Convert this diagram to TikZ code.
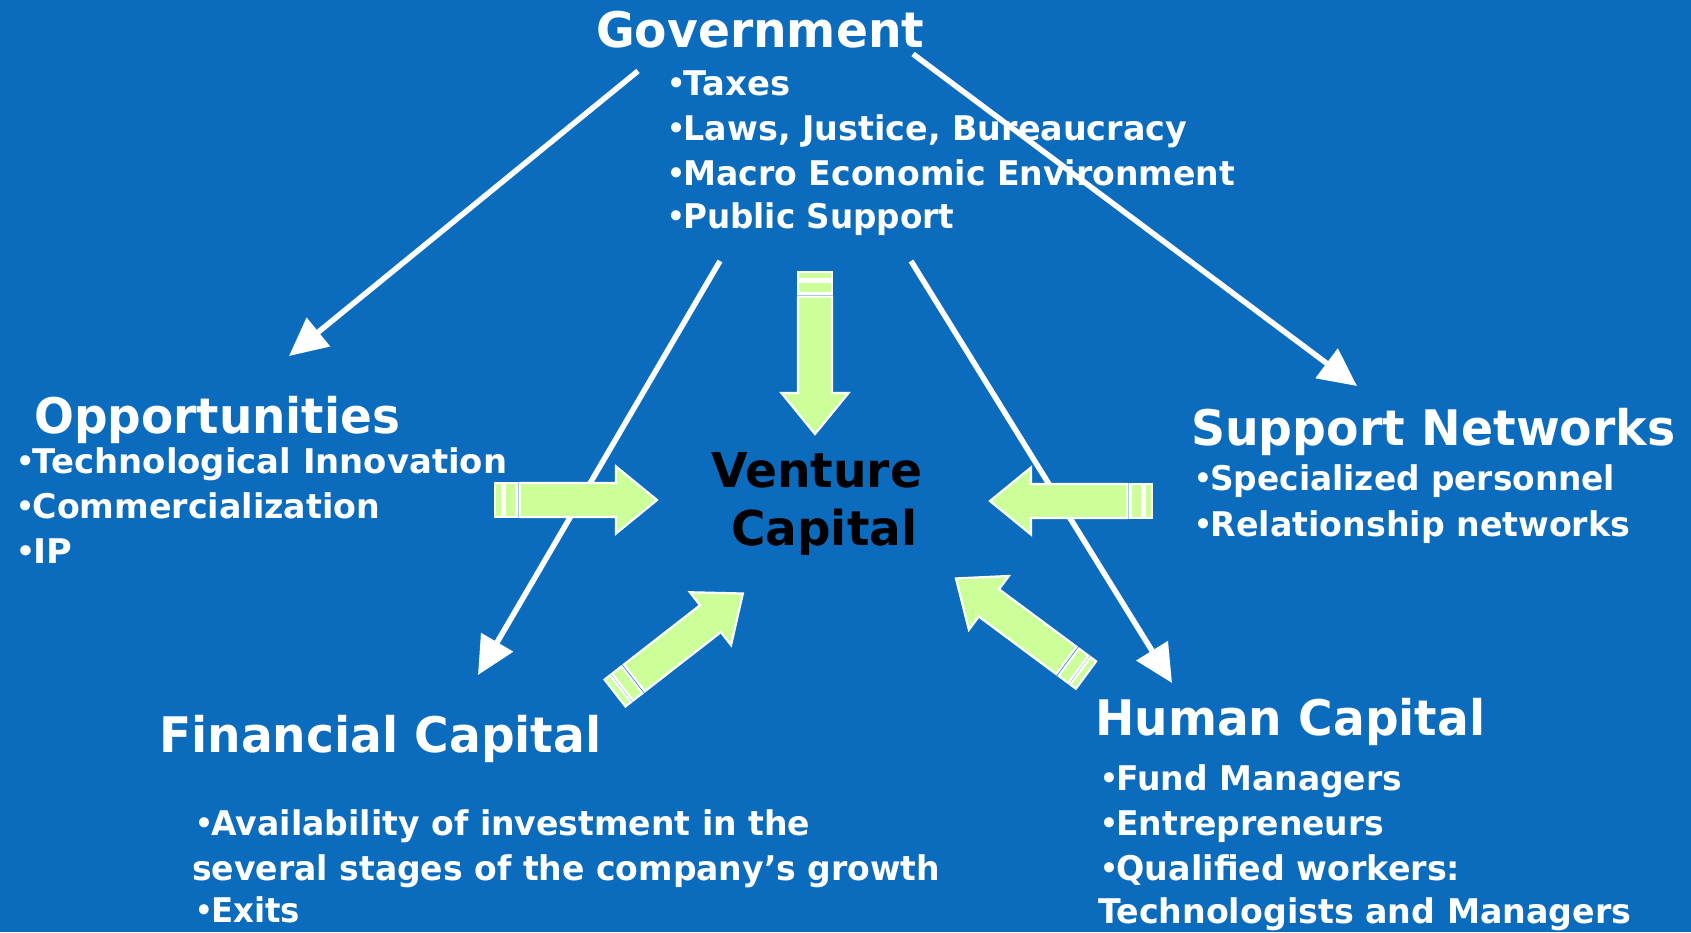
\documentclass[tikz,border=0pt]{standalone}
\usepackage{fontspec}
\usepackage{graphicx}
\setmainfont{DejaVu Sans}
\usetikzlibrary{arrows.meta}
\definecolor{bgblue}{RGB}{11,108,190}
\definecolor{agreen}{RGB}{204,255,153}
\newcommand{\fitw}[2]{\resizebox{#1}{\height}{#2}}
\newcommand{\bul}{\raisebox{0.04em}{\scalebox{0.85}{•}}\kern-0.05em}
\tikzset{
  title/.style={text=white, font=\bfseries\fontsize{49}{55}\selectfont, anchor=base west, inner sep=0pt},
  item/.style={text=white, font=\bfseries\fontsize{34}{40}\selectfont, anchor=base west, inner sep=0pt},
  center/.style={text=black, font=\bfseries\fontsize{48}{54}\selectfont, anchor=base west, inner sep=0pt},
  wline/.style={draw=white, line width=5.5pt, -{Triangle[length=38pt,width=36pt]}},
  garrow/.style={draw=white, fill=agreen, line width=2.2pt, line join=miter},
  blockarrow/.pic={
    \draw[garrow] (0,-17) rectangle (7,17);
    \draw[garrow] (9.5,-17) rectangle (21.5,17);
    \draw[garrow] (24.5,-17) -- (121,-17) -- (121,-33.5) -- (162,0) -- (121,33.5) -- (121,17) -- (24.5,17) -- cycle;
  }
}
\begin{document}
\begin{tikzpicture}[x=1pt,y=-1pt]
\fill[bgblue] (0,0) rectangle (1691,932);
\useasboundingbox (0,0) rectangle (1691,932);

% titles
\node[title] (gov) at (596,47) {\fitw{328pt}{Government}};
\node[title] (opp) at (34,433) {\fitw{366pt}{Opportunities}};
\node[title] (sup) at (1191,445) {\fitw{484pt}{Support Networks}};
\node[title] (fin) at (159,752) {\fitw{442pt}{Financial Capital}};
\node[title] (hum) at (1095,735) {\fitw{390pt}{Human Capital}};
\node[center] (vc1) at (711,487) {\fitw{211pt}{Venture}};
\node[center] (vc2) at (731,545) {\fitw{186pt}{Capital}};

% government items
\node[item] (g1) at (667,95) {\fitw{123pt}{\bul Taxes}};
\node[item] (g2) at (667,140) {\fitw{520pt}{\bul Laws, Justice, Bureaucracy}};
\node[item] (g3) at (667,185) {\fitw{568pt}{\bul Macro Economic Environment}};
\node[item] (g4) at (667,228) {\fitw{287pt}{\bul Public Support}};

% opportunities items
\node[item] (o1) at (16,473) {\fitw{491pt}{\bul Technological Innovation}};
\node[item] (o2) at (16,518) {\fitw{364pt}{\bul Commercialization}};
\node[item] (o3) at (16,563) {\fitw{56pt}{\bul IP}};

% support items
\node[item] (s1) at (1194,490) {\fitw{421pt}{\bul Specialized personnel}};
\node[item] (s2) at (1194,536) {\fitw{436pt}{\bul Relationship networks}};

% financial items
\node[item] (f1) at (195,835) {\fitw{615pt}{\bul Availability of investment in the}};
\node[item] (f2) at (192,880) {\fitw{748pt}{several stages of the company’s growth}};
\node[item] (f3) at (195,922) {\fitw{105pt}{\bul Exits}};

% human items
\node[item] (h1) at (1100,790) {\fitw{302pt}{\bul Fund Managers}};
\node[item] (h2) at (1100,835) {\fitw{284pt}{\bul Entrepreneurs}};
\node[item] (h3) at (1100,880) {\fitw{360pt}{\bul Qualified workers:}};
\node[item] (h4) at (1098,923) {\fitw{533pt}{Technologists and Managers}};

% white connectors
\coordinate (a1s) at (638,71);  \coordinate (a1e) at (289,356);
\coordinate (a2s) at (913,54);  \coordinate (a2e) at (1357,386);
\coordinate (a3s) at (720,261); \coordinate (a3e) at (478,675);
\coordinate (a4s) at (911,261); \coordinate (a4e) at (1172,683);
\draw[wline] (a1s) -- (a1e);
\draw[wline] (a2s) -- (a2e);
\draw[wline] (a3s) -- (a3e);
\draw[wline] (a4s) -- (a4e);

% green block arrows
\pic[rotate=-90] at (815,272) {blockarrow};
\pic at (495,500) {blockarrow};
\pic[rotate=180] at (1152,501) {blockarrow};
\pic[rotate=37.9] at (615,693) {blockarrow};
\pic[rotate=143.4] at (1086,675) {blockarrow};
\end{tikzpicture}
\end{document}
